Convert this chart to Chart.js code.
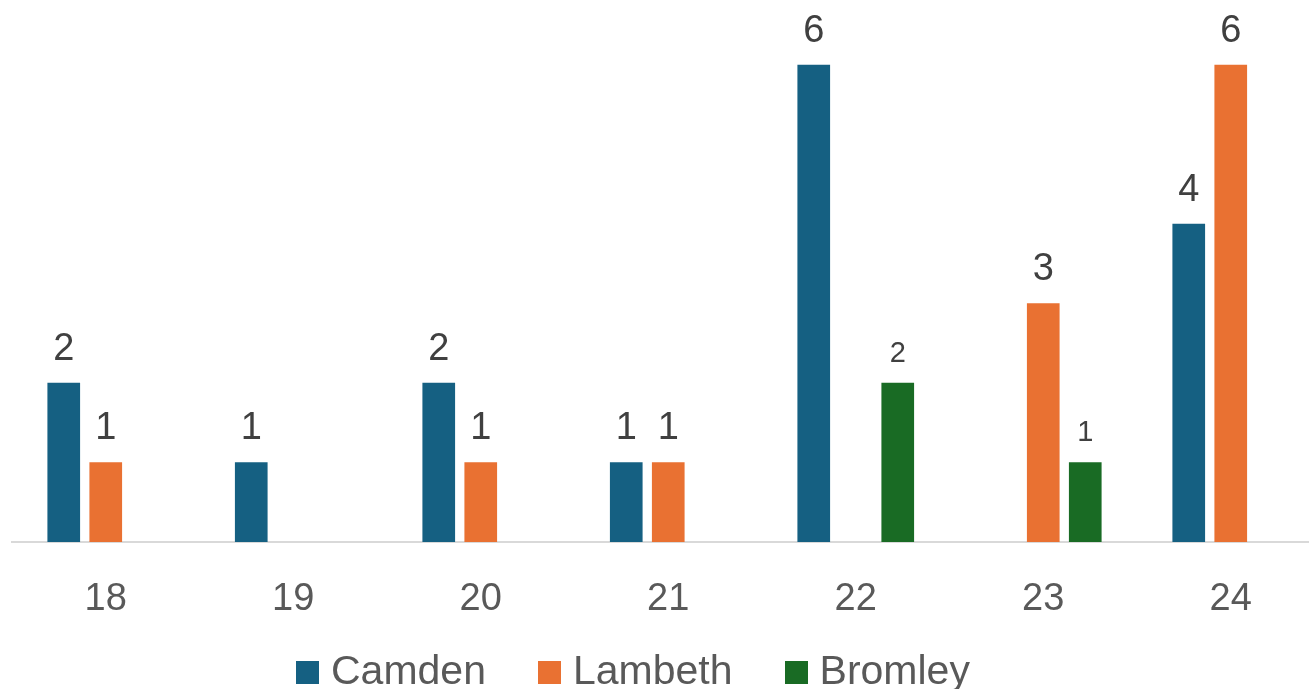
<!DOCTYPE html>
<html>
<head>
<meta charset="utf-8">
<script src="https://cdn.jsdelivr.net/npm/chart.js@4"></script>
<style>
  html, body { margin: 0; padding: 0; background: #fff; overflow: hidden; }
  #wrap { position: relative; width: 1330px; height: 689px; }
  #legend {
    position: absolute; left: 296px; top: 646px;
    display: flex; align-items: baseline;
    font-family: "Liberation Sans", Arial, sans-serif; font-size: 41px;
    line-height: 48px; color: #595959; white-space: nowrap;
  }
  .item { display: inline-flex; align-items: baseline; margin-right: 52px; }
  .swatch { display: inline-block; width: 23px; height: 23px; margin-right: 12px; }
</style>
</head>
<body>
<div id="wrap">
  <canvas id="grafico" width="1330" height="689"></canvas>
  <div id="legend"></div>
</div>
<script>
const categorias = ['18', '19', '20', '21', '22', '23', '24'];
const camden = [2, 1, 2, 1, 6, null, 4];
const lambeth = [1, null, 1, 1, null, 3, 6];
const bromley = [null, null, null, null, 2, 1, null];

const nomes = ['Camden', 'Lambeth', 'Bromley'];
const cores = ['#156082', '#E97132', '#196B24'];
const tamanhoRotulo = [38, 38, 29];

// numbers above each bar
const rotulosValores = {
  id: 'rotulosValores',
  afterDatasetsDraw(chart) {
    const ctx = chart.ctx;
    chart.data.datasets.forEach((ds, i) => {
      const meta = chart.getDatasetMeta(i);
      meta.data.forEach((bar, j) => {
        const v = ds.data[j];
        if (v === null || v === undefined) return;
        ctx.save();
        ctx.font = tamanhoRotulo[i] + 'px "Liberation Sans", Arial, sans-serif';
        ctx.fillStyle = '#404040';
        ctx.textAlign = 'center';
        ctx.textBaseline = 'alphabetic';
        ctx.fillText(String(v), bar.x, bar.y - (i === 2 ? 21 : 23));
        ctx.restore();
      });
    });
  }
};

const series = [camden, lambeth, bromley];
const datasets = series.map((dados, i) => ({
  label: nomes[i],
  data: dados,
  backgroundColor: cores[i],
  borderWidth: 0,
  categoryPercentage: 0.672,
  barPercentage: 0.778
}));

const ctx = document.getElementById('grafico').getContext('2d');
new Chart(ctx, {
  type: 'bar',
  data: { labels: categorias, datasets: datasets },
  options: {
    responsive: false,
    animation: false,
    devicePixelRatio: 1,
    layout: { padding: { left: 12, right: 5.5, top: 64.5, bottom: 31.5 } },
    plugins: {
      legend: { display: false },
      tooltip: { enabled: false }
    },
    scales: {
      x: {
        grid: { display: false, drawTicks: false },
        border: { display: true, color: '#d9d9d9', width: 2 },
        ticks: {
          color: '#595959',
          padding: 35,
          font: { family: '"Liberation Sans", Arial, sans-serif', size: 38 }
        }
      },
      y: { display: false, min: 0, max: 6 }
    }
  },
  plugins: [rotulosValores]
});

// legend below the chart
const legenda = document.getElementById('legend');
legenda.innerHTML = nomes.map((n, i) =>
  `<span class="item"><span class="swatch" style="background:${cores[i]}"></span>${n}</span>`
).join('');
</script>
</body>
</html>
